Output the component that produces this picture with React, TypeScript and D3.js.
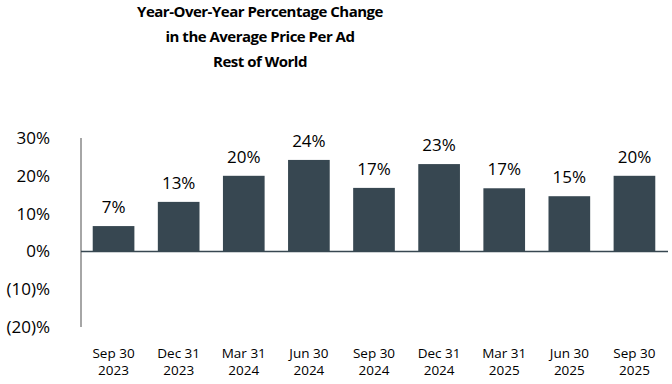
import React from "react";
import * as d3 from "d3";

const categories = ["Sep 30|2023", "Dec 31|2023", "Mar 31|2024", "Jun 30|2024", "Sep 30|2024", "Dec 31|2024", "Mar 31|2025", "Jun 30|2025", "Sep 30|2025"];
const values = [6.7, 13.1, 20.0, 24.2, 16.8, 23.1, 16.7, 14.6, 20.0];
const yTicks = [30, 20, 10, 0, -10, -20];
const titleLines = ["Year-Over-Year Percentage Change", "in the Average Price Per Ad", "Rest of World"];

const W = 672, H = 384;
const font = "'Open Sans', 'Noto Sans', sans-serif";

export default function App() {
  const x = d3.scaleBand().domain(categories).range([81, 667]).paddingInner(0.36).paddingOuter(0.18);
  const y = d3.scaleLinear().domain([-20, 30]).range([327, 138]);
  const fmt = (v: number) => (v < 0 ? `(${Math.abs(v)})%` : `${v}%`);
  return (
    <svg width={W} height={H} style={{ position: "absolute", left: 0, top: 0, background: "#fff" }}>
      {titleLines.map((t, i) => (
        <text key={i} x={260} y={12 + i * 25} dy="0.35em" textAnchor="middle" fontFamily={font} fontWeight={700} fontSize={15} letterSpacing={-0.5} fill="#000">{t}</text>
      ))}
      {yTicks.map((t) => (
        <text key={t} x={50} y={y(t)} dy="0.35em" textAnchor="end" fontFamily={font} fontSize={17} fill="#000">{fmt(t)}</text>
      ))}
      <line x1={81} x2={81} y1={y(30)} y2={y(-20)} stroke="#a6a6a6" strokeWidth={2} />
      {categories.map((c, i) => {
        const v = values[i];
        const bx = x(c)!;
        return (
          <g key={c}>
            <rect x={bx} width={x.bandwidth()} y={y(Math.max(0, v))} height={Math.abs(y(v) - y(0))} fill="#374751" />
            <text x={bx + x.bandwidth() / 2} y={y(v) - 19} dy="0.35em" textAnchor="middle" fontFamily={font} fontSize={17} fill="#000">{Math.round(v)}%</text>
            {c.split("|").map((l, j) => (
              <text key={j} x={bx + x.bandwidth() / 2} y={353 + j * 17} dy="0.35em" textAnchor="middle" fontFamily={font} fontSize={13.5} fill="#000">{l}</text>
            ))}
          </g>
        );
      })}
      <line x1={81} x2={668} y1={y(0)} y2={y(0)} stroke="#374751" strokeWidth={1.5} />
    </svg>
  );
}
